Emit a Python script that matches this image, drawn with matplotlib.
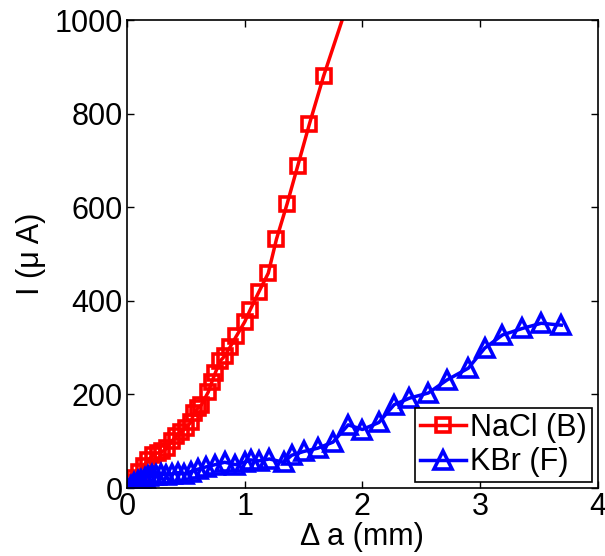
import numpy as np
import matplotlib.pyplot as plt

plt.rcParams['font.family'] = ['Liberation Sans', 'DejaVu Sans']

# NaCl (B)
nacl_x = [0, 0.03, 0.06, 0.10, 0.14, 0.18, 0.22, 0.26, 0.30, 0.34, 0.38, 0.42, 0.46,
          0.50, 0.54, 0.57, 0.60, 0.63, 0.69, 0.72, 0.75, 0.79, 0.83, 0.875, 0.93,
          1.00, 1.045, 1.12, 1.20, 1.27, 1.36, 1.45, 1.55, 1.67, 1.96]
nacl_y = [0, 12, 22, 35, 48, 60, 70, 75, 78, 85, 100, 112, 120,
          128, 140, 160, 170, 177, 205, 226, 246, 271, 282, 301, 325,
          355, 380, 419, 459, 532, 607, 688, 778, 880, 1100]

# KBr (F)
kbr_x = [0, 0.03, 0.06, 0.09, 0.12, 0.15, 0.18, 0.21, 0.25, 0.29, 0.33, 0.38, 0.43,
         0.48, 0.54, 0.60, 0.67, 0.75, 0.83, 0.92, 1.00, 1.05, 1.12, 1.21, 1.33,
         1.40, 1.50, 1.62, 1.75, 1.88, 2.00, 2.14, 2.27, 2.40, 2.56, 2.72, 2.90,
         3.04, 3.19, 3.36, 3.52, 3.69]
kbr_y = [0, 5, 10, 14, 18, 22, 25, 27, 28, 30, 28, 30, 33,
         30, 35, 40, 45, 50, 55, 50, 55, 60, 58, 62, 55,
         70, 78, 85, 98, 135, 125, 140, 178, 192, 203, 231, 256,
         299, 327, 341, 352, 348]

fig = plt.figure(figsize=(6.05, 5.56), dpi=100)
ax = fig.add_axes([0.21, 0.1223, 0.778, 0.8417])

ax.plot(nacl_x, nacl_y, color='r', marker='s', ms=10, mew=2.6, mfc='none',
        lw=2.5, label='NaCl (B)')
ax.plot(kbr_x, kbr_y, color='b', marker='^', ms=13, mew=2.6, mfc='none',
        lw=2.5, label='KBr (F)')

ax.set_xlim(0, 4)
ax.set_ylim(0, 1000)
ax.set_xticks([0, 1, 2, 3, 4])
ax.set_yticks([0, 200, 400, 600, 800, 1000])
ax.tick_params(direction='in', length=5, width=1, top=True, right=True,
               labelsize=22, pad=3)
for s in ax.spines.values():
    s.set_linewidth(1.2)

ax.set_xlabel('Δ a (mm)', fontsize=22, labelpad=0)
ax.set_ylabel('I (μ A)', fontsize=22, labelpad=6)

leg = ax.legend(loc='lower right', fontsize=22, handlelength=1.5,
                handletextpad=0.15, borderpad=0.15, labelspacing=0.15,
                fancybox=False, framealpha=1, borderaxespad=0.2)
leg.get_frame().set_edgecolor('k')
leg.get_frame().set_linewidth(1.2)

plt.savefig('out.png')
